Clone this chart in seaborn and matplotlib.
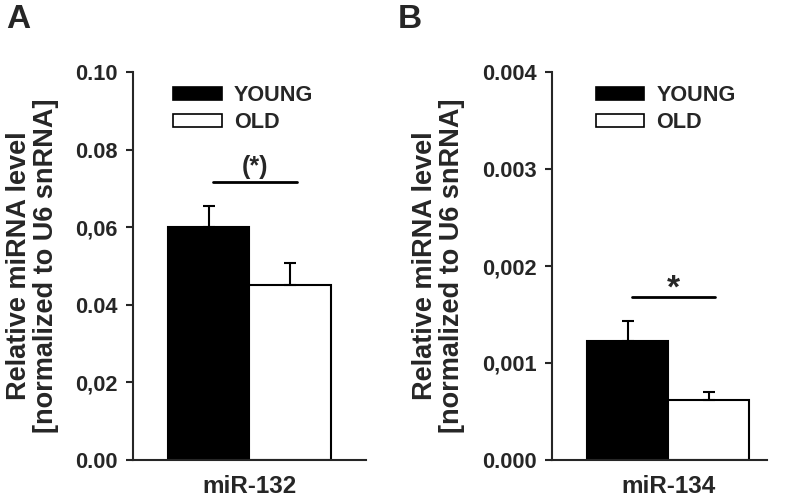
import pandas as pd
import numpy as np
import seaborn as sns
import matplotlib.pyplot as plt

# values
groups = ["YOUNG", "OLD"]
mirna_a = "miR-132"
mirna_b = "miR-134"
mean_a = [0.060, 0.045]
sem_a = [0.0055, 0.0058]
mean_b = [0.00123, 0.00062]
sem_b = [0.0002, 0.00008]
sig_a = 0.0717
sig_b = 0.00168
ticks_a = [0.00, 0.02, 0.04, 0.06, 0.08, 0.10]
ticklabels_a = ["0.00", "0,02", "0.04", "0,06", "0.08", "0.10"]
ticks_b = [0.000, 0.001, 0.002, 0.003, 0.004]
ticklabels_b = ["0.000", "0,001", "0,002", "0.003", "0.004"]

sns.set_style("ticks")
plt.rcParams["font.family"] = ["Liberation Sans", "DejaVu Sans"]
plt.rcParams["font.weight"] = "bold"

fig = plt.figure(figsize=(7.87, 5.0), dpi=100)
ax_a = fig.add_axes([0.169, 0.08, 0.296, 0.776])
ax_b = fig.add_axes([0.701, 0.08, 0.274, 0.776])

ylabel = "Relative miRNA level\n[normalized to U6 snRNA]"


def panel(ax, mirna, means, sems, sig, star, star_size, star_gap, ticks, ticklabels,
          width, xlim, legend_x):
    df = pd.DataFrame({"miRNA": [mirna] * 2, "group": groups, "value": means})
    sns.barplot(data=df, x="miRNA", y="value", hue="group", hue_order=groups,
                palette={"YOUNG": "black", "OLD": "white"}, edgecolor="black",
                linewidth=1.5, width=width, ax=ax, legend=True)
    centers = [p.get_x() + p.get_width() / 2 for p in ax.patches[:2]]
    for c, m, s in zip(centers, means, sems):
        ax.errorbar(c, m, yerr=[[0], [s]], fmt="none", ecolor="black",
                    elinewidth=1.5, capsize=4, capthick=1.5, zorder=1)
    x0 = centers[0] + 0.02
    x1 = centers[1] + 0.03
    ax.plot([x0, x1], [sig, sig], color="black", lw=2)
    ax.text((x0 + x1) / 2, sig + ticks[-1] * star_gap, star, ha="center", va="bottom",
            fontsize=star_size, fontweight="bold")
    ax.set_xlim(*xlim)
    ax.set_ylim(0, ticks[-1])
    ax.set_yticks(ticks)
    ax.set_yticklabels(ticklabels, fontsize=15.7, fontweight="bold")
    ax.tick_params(axis="y", direction="out", length=5, width=1.5, pad=6)
    ax.tick_params(axis="x", length=0, pad=11, labelsize=17.5)
    for lab in ax.get_xticklabels():
        lab.set_fontweight("bold")
    ax.set_xlabel("")
    ax.set_ylabel(ylabel, fontsize=19.5, fontweight="bold", labelpad=12,
                  linespacing=1.05)
    sns.despine(ax=ax)
    ax.spines["left"].set_linewidth(1.5)
    ax.spines["bottom"].set_linewidth(1.5)
    leg = ax.legend(loc="upper left", bbox_to_anchor=(legend_x, 0.995), frameon=False,
                    fontsize=15.6, handlelength=2.25, handleheight=0.55,
                    handletextpad=0.55, labelspacing=0.3, borderpad=0)
    for t in leg.get_texts():
        t.set_fontweight("bold")
    for h in leg.legend_handles:
        h.set_edgecolor("black")
        h.set_linewidth(1.2)


panel(ax_a, mirna_a, mean_a, sem_a, sig_a, "(*)", 18, 0.008, ticks_a, ticklabels_a,
      0.7, (-0.5, 0.5), 0.127)
panel(ax_b, mirna_b, mean_b, sem_b, sig_b, "*", 24, -0.02, ticks_b, ticklabels_b,
      0.75, (-0.54, 0.46), 0.153)

fig.text(0.008, 0.992, "A", fontsize=24, fontweight="bold", va="top")
fig.text(0.506, 0.992, "B", fontsize=24, fontweight="bold", va="top")

fig.savefig("out.png", dpi=100, facecolor="white")
